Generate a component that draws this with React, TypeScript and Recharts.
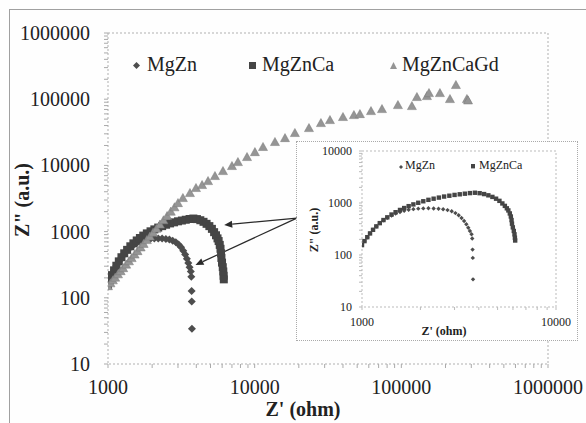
import React from 'react';
import { ScatterChart, Scatter, XAxis, YAxis, ReferenceArea, ReferenceLine, Legend, Label } from 'recharts';

const FONT = "'Liberation Serif', 'Times New Roman', Times, 'DejaVu Serif', serif";

const seriesNames = ['MgZn', 'MgZnCa', 'MgZnCaGd'];

const mgZnRe = [1000, 1030, 1065, 1100, 1140, 1185, 1235, 1290, 1350, 1420, 1490, 1570, 1650, 1740, 1840, 1950, 2070, 2200, 2340, 2480, 2620, 2760, 2900, 3030, 3150, 3260, 3360, 3450, 3530, 3600, 3670, 3700, 3715, 3725, 3735];
const mgZnIm = [155, 185, 220, 260, 305, 355, 410, 465, 520, 575, 625, 670, 710, 740, 762, 778, 788, 790, 786, 775, 757, 730, 692, 640, 580, 515, 450, 390, 335, 290, 250, 208, 127, 88, 34];

const mgZnCaRe = [1000, 1030, 1065, 1100, 1140, 1185, 1235, 1290, 1350, 1420, 1490, 1570, 1650, 1740, 1840, 1950, 2070, 2200, 2340, 2490, 2650, 2820, 3000, 3190, 3390, 3600, 3820, 4040, 4260, 4480, 4700, 4910, 5110, 5290, 5450, 5580, 5680, 5780, 5850, 5900, 5930, 5990, 6060, 6110, 6140, 6160];
const mgZnCaIm = [155, 185, 220, 260, 305, 355, 410, 470, 530, 600, 665, 735, 800, 870, 940, 1010, 1080, 1150, 1210, 1270, 1330, 1380, 1430, 1470, 1510, 1550, 1575, 1545, 1485, 1405, 1310, 1210, 1100, 980, 880, 790, 720, 630, 550, 470, 400, 340, 290, 250, 215, 190];

const mgZnCaGdRe = [1000, 1040, 1080, 1120, 1170, 1220, 1270, 1330, 1390, 1450, 1520, 1590, 1670, 1750, 1840, 1930, 2030, 2140, 2260, 2390, 2530, 2680, 2840, 3000, 3240, 3620, 3980, 4380, 4810, 5360, 6080, 7000, 7690, 8870, 10040, 11400, 13750, 16100, 18800, 23450, 28300, 32600, 40000, 47500, 52200, 62100, 73800, 94800, 118000, 127700, 149500, 154300, 183300, 214500, 235600, 280000, 285000];
const mgZnCaGdIm = [150, 166, 184, 202, 227, 253, 281, 318, 357, 399, 451, 508, 578, 654, 746, 845, 966, 1109, 1281, 1484, 1723, 2005, 2335, 2700, 3220, 3830, 4560, 5060, 5810, 6920, 8230, 9800, 11250, 13400, 15900, 19000, 22600, 25900, 30900, 36700, 43700, 48500, 53900, 57700, 59700, 66300, 71100, 81700, 78900, 108000, 111700, 124000, 124000, 100700, 164000, 100700, 96000];

const mainXTicks = [1000, 2000, 3000, 4000, 5000, 6000, 7000, 8000, 9000, 10000, 20000, 30000, 40000, 50000, 60000, 70000, 80000, 90000, 100000, 200000, 300000, 400000, 500000, 600000, 700000, 800000, 900000, 1000000];
const mainYTicks = [10, 20, 30, 40, 50, 60, 70, 80, 90, 100, 200, 300, 400, 500, 600, 700, 800, 900, 1000, 2000, 3000, 4000, 5000, 6000, 7000, 8000, 9000, 10000, 20000, 30000, 40000, 50000, 60000, 70000, 80000, 90000, 100000, 200000, 300000, 400000, 500000, 600000, 700000, 800000, 900000, 1000000];
const mainXLabels = [1000, 10000, 100000, 1000000];
const mainYLabels = [10, 100, 1000, 10000, 100000, 1000000];

const insetXTicks = [1000, 2000, 3000, 4000, 5000, 6000, 7000, 8000, 9000, 10000];
const insetYTicks = [10, 20, 30, 40, 50, 60, 70, 80, 90, 100, 200, 300, 400, 500, 600, 700, 800, 900, 1000, 2000, 3000, 4000, 5000, 6000, 7000, 8000, 9000, 10000];
const insetXLabels = [1000, 10000];
const insetYLabels = [10, 100, 1000, 10000];

// arrow annotation: from inset edge to the two curves (data coordinates)
const arrowStart = { x: 19400, y: 1600 };
const arrowEnds = [{ x: 6200, y: 1260 }, { x: 3950, y: 313 }];

const zip = (a: number[], b: number[]) => a.map((v, i) => ({ x: v, y: b[i] }));
const mgZnData = zip(mgZnRe, mgZnIm);
const mgZnCaData = zip(mgZnCaRe, mgZnCaIm);
const mgZnCaGdData = zip(mgZnCaGdRe, mgZnCaGdIm);

const C_ZN = '#4d4d4d';
const C_CA = '#454545';
const C_GD = '#959595';

const diamond = (r: number, fill: string) => (p: any) => (
  <polygon points={`${p.cx},${p.cy - r} ${p.cx + r},${p.cy} ${p.cx},${p.cy + r} ${p.cx - r},${p.cy}`} fill={fill} />
);
const square = (r: number, fill: string) => (p: any) => (
  <rect x={p.cx - r} y={p.cy - r} width={2 * r} height={2 * r} fill={fill} />
);
const triangle = (r: number, fill: string) => (p: any) => (
  <polygon points={`${p.cx},${p.cy - r} ${p.cx + r},${p.cy + r * 0.8} ${p.cx - r},${p.cy + r * 0.8}`} fill={fill} stroke="#7a7a7a" strokeWidth={0.5} />
);

const makeTick = (labels: number[], axis: 'x' | 'y', fs: number) => (p: any) => {
  const v = p.payload.value;
  if (!labels.includes(v)) return <g />;
  if (axis === 'x') {
    return (
      <text x={p.x} y={p.y} dy="0.71em" textAnchor="middle" style={{ fontFamily: FONT }} fontSize={fs} fill="#222">{v}</text>
    );
  }
  return (
    <text x={p.x} y={p.y} dy="0.35em" textAnchor="end" style={{ fontFamily: FONT }} fontSize={fs} fill="#222">{v}</text>
  );
};

const arrowShape = (p: any) => {
  const { x1, y1, x2, y2 } = p;
  if ([x1, y1, x2, y2].some((v) => v === undefined || isNaN(v))) return <g />;
  const ang = Math.atan2(y2 - y1, x2 - x1);
  const L = 8, W = 3.5;
  const bx = x2 - L * Math.cos(ang), by = y2 - L * Math.sin(ang);
  const lx = bx + W * Math.sin(ang), ly = by - W * Math.cos(ang);
  const rx = bx - W * Math.sin(ang), ry = by + W * Math.cos(ang);
  return (
    <g>
      <line x1={x1} y1={y1} x2={bx} y2={by} stroke="#2a2a2a" strokeWidth={1.2} />
      <polygon points={`${x2},${y2} ${lx},${ly} ${rx},${ry}`} fill="#2a2a2a" />
    </g>
  );
};

const legendMarker = (kind: string, size: number, color: string) => {
  const s = size;
  if (kind === 'diamond')
    return <svg width={s * 2} height={s * 2}><polygon points={`${s},0 ${s * 2},${s} ${s},${s * 2} 0,${s}`} fill={color} /></svg>;
  if (kind === 'square')
    return <svg width={s * 2} height={s * 2}><rect x={0} y={0} width={s * 2} height={s * 2} fill={color} /></svg>;
  return <svg width={s * 2} height={s * 2}><polygon points={`${s},0 ${s * 2},${s * 2} 0,${s * 2}`} fill={color} /></svg>;
};

const mainLegendItems = [
  { name: seriesNames[0], kind: 'diamond', color: C_ZN, mx: 136, tx: 147, size: 3.5 },
  { name: seriesNames[1], kind: 'square', color: C_CA, mx: 252, tx: 262, size: 3.5 },
  { name: seriesNames[2], kind: 'triangle', color: C_GD, mx: 393, tx: 402, size: 3.5 },
];
const insetLegendItems = [
  { name: seriesNames[0], kind: 'diamond', color: C_ZN, mx: 401 - 297, tx: 405 - 297, size: 2 },
  { name: seriesNames[1], kind: 'square', color: C_CA, mx: 473 - 297, tx: 479 - 297, size: 2.2 },
];

const legendContent = (items: any[], cy: number, fs: number) => () => (
  <div style={{ position: 'relative', width: 0, height: 0 }}>
    {items.map((it) => (
      <React.Fragment key={it.name}>
        <div style={{ position: 'absolute', left: it.mx - it.size, top: cy - it.size, lineHeight: 0 }}>
          {legendMarker(it.kind, it.size, it.color)}
        </div>
        <div style={{ position: 'absolute', left: it.tx, top: cy - fs * 0.62, fontFamily: FONT, fontSize: fs, lineHeight: `${fs * 1.15}px`, whiteSpace: 'nowrap', color: '#222' }}>
          {it.name}
        </div>
      </React.Fragment>
    ))}
  </div>
);

export default function App() {
  return (
    <div style={{ position: 'absolute', left: 0, top: 0, width: 586, height: 423, overflow: 'hidden', background: '#fefefe', fontFamily: FONT }}>
      <div style={{ position: 'absolute', left: 9, top: 9, width: 577, height: 414, borderTop: '1px solid #a0a0a0', borderLeft: '1px solid #a0a0a0', boxSizing: 'border-box' }} />
      <div style={{ position: 'absolute', left: 0, top: 0 }}>
        <ScatterChart width={586} height={423} margin={{ top: 33, right: 38, bottom: 19, left: 18 }} style={{ fontFamily: FONT }}>
          <XAxis dataKey="x" type="number" scale="log" domain={[1000, 1000000]} ticks={mainXTicks} interval={0}
            allowDataOverflow tick={makeTick(mainXLabels, 'x', 20)} tickLine={{ stroke: '#aaa' }} tickSize={4} tickMargin={12}
            axisLine={false} height={40}>
            <Label content={(p: any) => {
              const vb = p.viewBox;
              return <text x={vb.x + vb.width / 2 - 25} y={vb.y + 52} textAnchor="middle" style={{ fontFamily: FONT }} fontSize={20} fontWeight="bold" fill="#222">Z' (ohm)</text>;
            }} />
          </XAxis>
          <YAxis dataKey="y" type="number" scale="log" domain={[10, 1000000]} ticks={mainYTicks} interval={0}
            allowDataOverflow tick={makeTick(mainYLabels, 'y', 20)} tickLine={{ stroke: '#aaa' }} tickSize={4} tickMargin={14}
            axisLine={false} width={90}>
            <Label content={() => (
              <text x={22} y={200} transform="rotate(-90, 22, 200)" textAnchor="middle" dominantBaseline="central" style={{ fontFamily: FONT }} fontSize={20} fontWeight="bold" fill="#222">Z" (a.u.)</text>
            )} />
          </YAxis>
          <ReferenceArea x1={1000} x2={1000000} y1={10} y2={1000000} fill="none" stroke="#b0b0b0" strokeDasharray="2 2" />
          <Scatter name={seriesNames[0]} data={mgZnData} shape={diamond(4, C_ZN)} isAnimationActive={false} />
          <Scatter name={seriesNames[1]} data={mgZnCaData} shape={square(4, C_CA)} isAnimationActive={false} />
          <Scatter name={seriesNames[2]} data={mgZnCaGdData} shape={triangle(4.5, C_GD)} isAnimationActive={false} />
          {arrowEnds.map((e, i) => (
            <ReferenceLine key={i} segment={[arrowStart, e]} shape={arrowShape} ifOverflow="visible" />
          ))}
          <Legend content={legendContent(mainLegendItems, 65, 20)} wrapperStyle={{ position: 'absolute', left: 0, top: 0, width: 0, height: 0 }} />
        </ScatterChart>
      </div>
      <div style={{ position: 'absolute', left: 297, top: 142, width: 280, height: 198, background: '#ffffff', outline: '1px dotted #aaa' }}>
        <ScatterChart width={280} height={198} margin={{ top: 9, right: 21, bottom: 8, left: 25 }} style={{ fontFamily: FONT }}>
          <XAxis dataKey="x" type="number" scale="log" domain={[1000, 10000]} ticks={insetXTicks} interval={0}
            allowDataOverflow tick={makeTick(insetXLabels, 'x', 12)} tickLine={{ stroke: '#bbb' }} tickSize={3} tickMargin={7}
            axisLine={false} height={25}>
            <Label content={() => (
              <text x={147} y={193} textAnchor="middle" style={{ fontFamily: FONT }} fontSize={12} fontWeight="bold" fill="#222">Z' (ohm)</text>
            )} />
          </XAxis>
          <YAxis dataKey="y" type="number" scale="log" domain={[10, 10000]} ticks={insetYTicks} interval={0}
            allowDataOverflow tick={makeTick(insetYLabels, 'y', 12)} tickLine={{ stroke: '#bbb' }} tickSize={3} tickMargin={7}
            axisLine={false} width={40}>
            <Label content={() => (
              <text x={17} y={88} transform="rotate(-90, 17, 88)" textAnchor="middle" dominantBaseline="central" style={{ fontFamily: FONT }} fontSize={12} fontWeight="bold" fill="#222">Z" (a.u.)</text>
            )} />
          </YAxis>
          <ReferenceArea x1={1000} x2={10000} y1={10} y2={10000} fill="none" stroke="#bbb" strokeDasharray="2 2" />
          <Scatter name={seriesNames[0]} data={mgZnData} shape={diamond(2.2, C_ZN)} isAnimationActive={false} />
          <Scatter name={seriesNames[1]} data={mgZnCaData} shape={square(2.2, C_CA)} isAnimationActive={false} />
          <Legend content={legendContent(insetLegendItems, 24, 12)} wrapperStyle={{ position: 'absolute', left: 0, top: 0, width: 0, height: 0 }} />
        </ScatterChart>
      </div>
    </div>
  );
}
